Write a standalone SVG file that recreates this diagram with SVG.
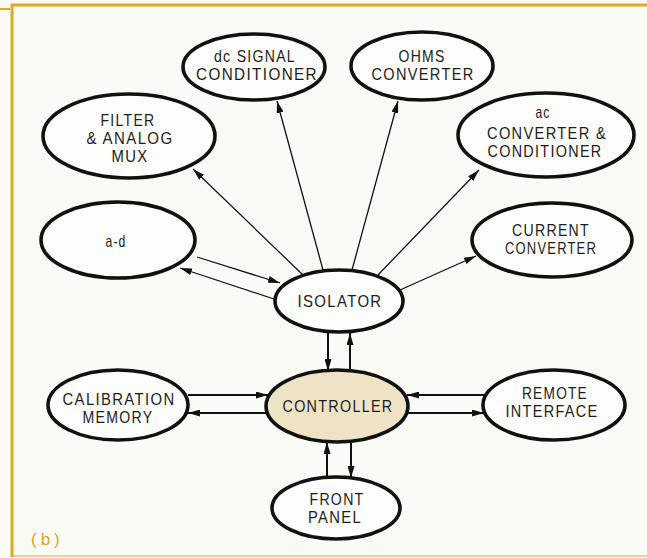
<svg xmlns="http://www.w3.org/2000/svg" width="647" height="558" viewBox="0 0 647 558">
<defs>
<style>
.node ellipse{fill:#fdfdfb;stroke:#111;stroke-width:3.6}
#controller ellipse{fill:#efe3c6}
.node text{font-family:"Liberation Sans",Arial,sans-serif;font-size:16.5px;fill:#1c1c1c;text-anchor:middle;letter-spacing:1.5px}
.conn line{stroke:#111;stroke-width:1.3;marker-end:url(#ah)}
.conn line.bold{stroke-width:2}
.frame{stroke:#dcaa2a;fill:none}
</style>
<marker id="ah" viewBox="0 0 12 7" markerWidth="12" markerHeight="7" refX="12" refY="3.5" orient="auto" markerUnits="userSpaceOnUse">
<path d="M0,0 L12,3.5 L0,7 z" fill="#111"/>
</marker>
</defs>
<rect width="647" height="558" fill="#fbfbf6"/>
<g id="frame">
<line class="frame" x1="11" y1="5" x2="647" y2="5" stroke-width="3"/>
<line class="frame" x1="0" y1="9" x2="10" y2="9" stroke-width="2"/>
<line class="frame" x1="12" y1="4" x2="12" y2="557" stroke-width="3"/>
<line class="frame" x1="12" y1="556" x2="647" y2="556" stroke-width="1.2" stroke="#efdca8"/>
<text x="31" y="545" font-family="Liberation Sans, Arial, sans-serif" font-size="17" fill="#d6a32b" letter-spacing="4">(b)</text>
</g>
<g id="connectors" class="conn">
<line x1="323" y1="270" x2="277" y2="101"/>
<line x1="352" y1="270" x2="398" y2="101"/>
<line x1="303" y1="275" x2="193" y2="169"/>
<line x1="378" y1="275" x2="479" y2="170"/>
<line x1="400" y1="290" x2="476" y2="256"/>
<line x1="197" y1="257" x2="280" y2="283"/>
<line x1="277" y1="300" x2="180" y2="268"/>
<line class="bold" x1="328" y1="333" x2="328" y2="371"/>
<line class="bold" x1="350" y1="371" x2="350" y2="333"/>
<line class="bold" x1="188" y1="395" x2="268" y2="395"/>
<line class="bold" x1="268" y1="413" x2="188" y2="413"/>
<line class="bold" x1="484" y1="395" x2="407" y2="395"/>
<line class="bold" x1="407" y1="413" x2="484" y2="413"/>
<line class="bold" x1="327" y1="478" x2="327" y2="442"/>
<line class="bold" x1="351" y1="442" x2="351" y2="478"/>
</g>
<g id="dc-signal" class="node">
<ellipse cx="254" cy="67" rx="71" ry="33"/>
<text x="255" y="62" textLength="82" lengthAdjust="spacingAndGlyphs">dc SIGNAL</text>
<text x="257" y="80" textLength="122" lengthAdjust="spacingAndGlyphs">CONDITIONER</text>
</g>
<g id="ohms" class="node">
<ellipse cx="422" cy="66" rx="71" ry="34"/>
<text x="422" y="62" textLength="47" lengthAdjust="spacingAndGlyphs">OHMS</text>
<text x="423" y="80" textLength="103" lengthAdjust="spacingAndGlyphs">CONVERTER</text>
</g>
<g id="filter" class="node">
<ellipse cx="129" cy="136" rx="86" ry="42"/>
<text x="128" y="126" textLength="55" lengthAdjust="spacingAndGlyphs">FILTER</text>
<text x="130" y="144" textLength="87" lengthAdjust="spacingAndGlyphs">&amp; ANALOG</text>
<text x="130" y="162" textLength="37" lengthAdjust="spacingAndGlyphs">MUX</text>
</g>
<g id="ac" class="node">
<ellipse cx="546" cy="135" rx="88" ry="42"/>
<text x="543" y="118" textLength="15" lengthAdjust="spacingAndGlyphs">ac</text>
<text x="547" y="139" textLength="120" lengthAdjust="spacingAndGlyphs">CONVERTER &amp;</text>
<text x="545" y="157" textLength="115" lengthAdjust="spacingAndGlyphs">CONDITIONER</text>
</g>
<g id="a-d" class="node">
<ellipse cx="118" cy="240" rx="77" ry="38"/>
<text x="116" y="247" textLength="21" lengthAdjust="spacingAndGlyphs">a-d</text>
</g>
<g id="current" class="node">
<ellipse cx="552" cy="240" rx="80" ry="37"/>
<text x="551" y="236" textLength="78" lengthAdjust="spacingAndGlyphs">CURRENT</text>
<text x="551" y="254" textLength="92" lengthAdjust="spacingAndGlyphs">CONVERTER</text>
</g>
<g id="isolator" class="node">
<ellipse cx="339" cy="301" rx="64" ry="31"/>
<text x="340" y="307" textLength="85" lengthAdjust="spacingAndGlyphs">ISOLATOR</text>
</g>
<g id="controller" class="node">
<ellipse cx="337" cy="406" rx="71" ry="36"/>
<text x="338" y="412" textLength="111" lengthAdjust="spacingAndGlyphs">CONTROLLER</text>
</g>
<g id="calibration" class="node">
<ellipse cx="118" cy="405" rx="70" ry="35"/>
<text x="119" y="405" textLength="113" lengthAdjust="spacingAndGlyphs">CALIBRATION</text>
<text x="118" y="423" textLength="71" lengthAdjust="spacingAndGlyphs">MEMORY</text>
</g>
<g id="remote" class="node">
<ellipse cx="554" cy="405" rx="71" ry="35"/>
<text x="555" y="399" textLength="66" lengthAdjust="spacingAndGlyphs">REMOTE</text>
<text x="552" y="417" textLength="93" lengthAdjust="spacingAndGlyphs">INTERFACE</text>
</g>
<g id="front-panel" class="node">
<ellipse cx="336" cy="508" rx="64" ry="31"/>
<text x="337" y="505" textLength="55" lengthAdjust="spacingAndGlyphs">FRONT</text>
<text x="335" y="523" textLength="54" lengthAdjust="spacingAndGlyphs">PANEL</text>
</g>
</svg>
